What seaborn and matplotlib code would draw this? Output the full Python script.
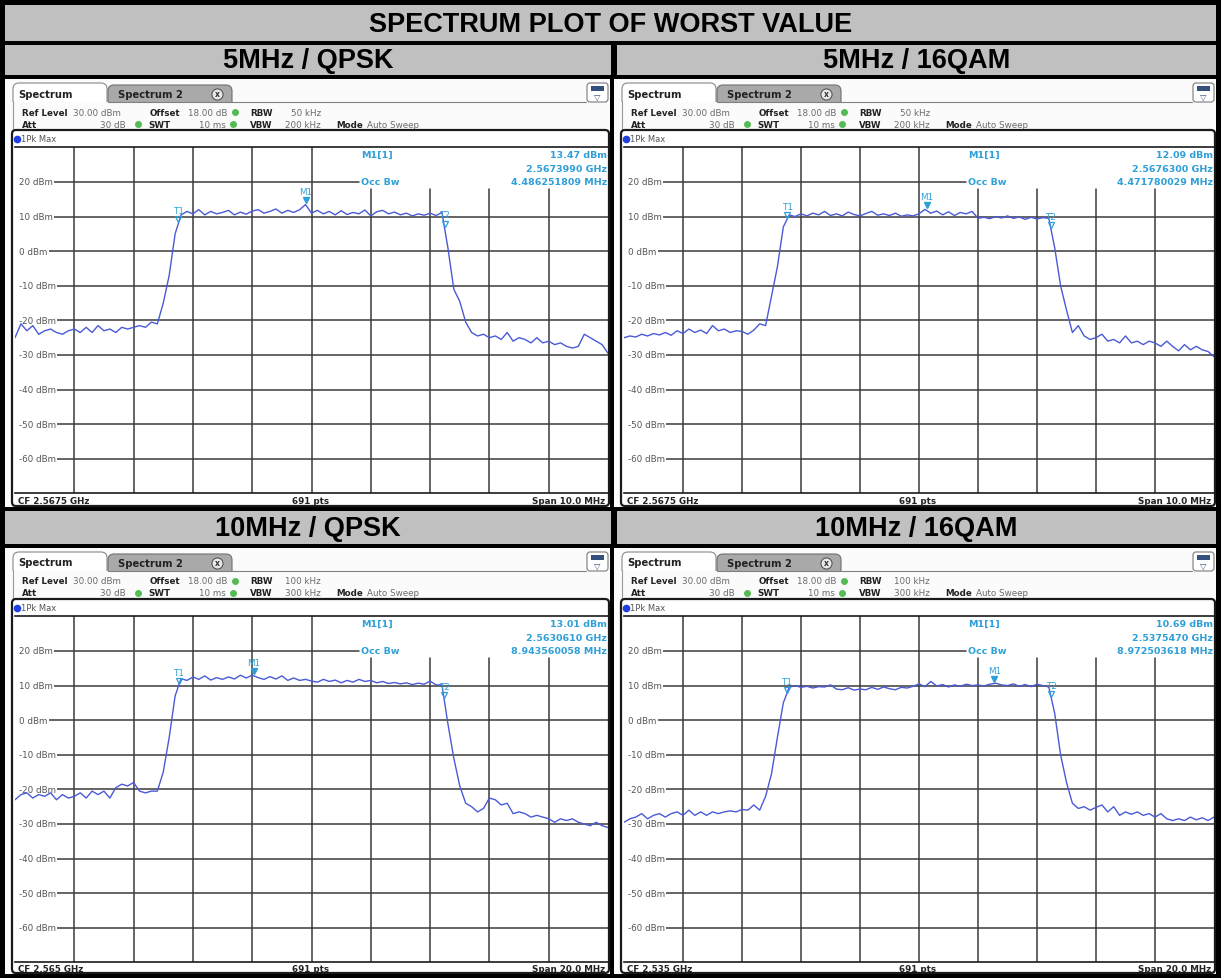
import numpy as np
import matplotlib
matplotlib.use('Agg')
import matplotlib.pyplot as plt
from matplotlib.patches import Rectangle, FancyBboxPatch
import seaborn as sns

# Chart data
TITLE = 'SPECTRUM PLOT OF WORST VALUE'
panel_titles = ['5MHz / QPSK', '5MHz / 16QAM', '10MHz / QPSK', '10MHz / 16QAM']
center_ghz = [2.5675, 2.5675, 2.565, 2.535]
span_mhz = [10.0, 10.0, 20.0, 20.0]
rbw_text = ['50 kHz', '50 kHz', '100 kHz', '100 kHz']
vbw_text = ['200 kHz', '200 kHz', '300 kHz', '300 kHz']
m1_level = [13.47, 12.09, 13.01, 10.69]
m1_freq_ghz = [2.5673990, 2.5676300, 2.5630610, 2.5375470]
occ_bw_mhz = [4.486251809, 4.471780029, 8.943560058, 8.972503618]
level_ticks = [20, 10, 0, -10, -20, -30, -40, -50, -60]

# Trace levels in dBm, one value every 1/10 of a division (101 points)
trace_5_qpsk = [
    -25, -21, -23, -21.5, -24, -23, -22.5, -23.5, -24, -23, -22.5,
    -23.5, -22, -23.5, -21.5, -23, -22.5, -23.5, -22, -22.5, -22,
    -21.5, -22, -20.5, -21, -15, -7, 5, 10.5, 11.5, 10.8,
    12, 10.5, 11.5, 10.8, 11.2, 11.8, 10.5, 11.3, 10.7, 11.6,
    12, 11, 11.5, 12.2, 11, 11.8, 11.2, 12, 13.47, 11,
    11.8, 10.8, 11.5, 10.5, 11.7, 10.6, 11.2, 10.8, 11.9, 10.2,
    11.4, 11.8, 10.8, 11.3, 10.5, 11, 10.2, 10.8, 10.4, 11,
    10.3, 11.2, 1, -11, -14.5, -20.5, -23.5, -24.5, -24, -25,
    -24.5, -25.5, -23.5, -26, -25, -25.5, -26.5, -25, -26.5, -26,
    -27, -26.5, -27.5, -28, -27.5, -24, -25, -26, -27, -29.5]
trace_5_16qam = [
    -25, -24.5, -24.8, -24, -24.5, -23.8, -24.2, -23.5, -24.3, -23, -23.8,
    -22.5, -23.5, -22.8, -23.8, -21.5, -23, -22.5, -23.5, -23, -23.2,
    -24, -22.8, -21, -21.5, -13, -4.5, 7, 10.5, 10, 10.8,
    10.2, 11, 10.5, 11.5, 10.3, 10.8, 10.2, 11.3, 10.6, 10.2,
    10.9, 11.5, 10.4, 10.8, 10.3, 11, 10.1, 10.5, 10.2, 10.8,
    12.09, 11, 11.6, 10.5, 11.4, 10.3, 11.2, 10.8, 11.5, 9.5,
    9.8, 9.4, 10, 9.6, 10.2, 9.5, 9.9, 9.2, 9.8, 9.3,
    9.7, 9.5, 1, -10, -17, -23.5, -21.5, -24.5, -25.5, -25,
    -24, -26, -25.5, -26.5, -24.5, -26.5, -26, -27, -26, -26.5,
    -27.5, -26, -27.5, -28.8, -27, -28.5, -27.5, -28.5, -29, -30.5]
trace_10_qpsk = [
    -23, -21.5, -21, -22.5, -21.5, -22, -21, -23, -21.5, -22.5, -22,
    -21, -22.5, -20.5, -21.5, -20.5, -22.5, -19.5, -18.5, -19, -18,
    -20.5, -21, -20.5, -20.5, -15, -5, 7, 12, 11.5, 12.5,
    11.8, 12.8, 11.6, 12.3, 11.8, 12.5, 11.9, 13, 12.2, 13.01,
    12.3, 11.8, 12.6, 11.9, 12.8, 11.5, 12.2, 11.5, 11.8, 11.3,
    11, 11.8, 11.2, 11.6, 10.8, 11.5, 11, 11.8, 11.2, 11.5,
    10.8, 11.2, 10.6, 10.9, 10.5, 10.8, 10.3, 10.7, 10.4, 11.3,
    10.2, 10.2, -1, -11, -19, -24, -25, -26.5, -25.5, -22.5,
    -23, -24.5, -24, -27, -26.5, -27, -28, -27.5, -28, -28.5,
    -29.5, -28.5, -29, -28.5, -29.5, -30, -30.5, -29.5, -30.5, -31]
trace_10_16qam = [
    -29.5, -28.5, -28, -27, -28.5, -27.5, -27, -28, -27, -26.5, -27.5,
    -26, -27.5, -26.5, -27.5, -26.5, -27, -26.5, -26.2, -26.5, -25.8,
    -26, -24.5, -26, -22, -15.5, -5, 5, 9.5, 10, 9.5,
    9.8, 9.3, 9.7, 9.6, 10.2, 9, 8.8, 9.4, 8.7, 9,
    8.8, 9.5, 8.9, 9.6, 9.1, 8.8, 9.5, 9.3, 9.8, 10.5,
    9.7, 11.2, 9.9, 10.3, 9.6, 10.2, 9.8, 10.4, 10, 10.2,
    9.9, 10.4, 10.69, 10.2, 10, 10.5, 9.8, 10.3, 9.7, 10.4,
    10, 9.6, 2, -10, -18, -24, -25.5, -25, -26, -25.2,
    -24.5, -26.5, -25, -27.5, -26.5, -27.2, -26.5, -27.5, -27, -28,
    -27, -28.5, -29, -28.5, -29, -28, -28.8, -28.2, -29, -28]
traces = [trace_5_qpsk, trace_5_16qam, trace_10_qpsk, trace_10_16qam]

# Colours
TRACE = '#4a5ad6'
CYAN = '#2e9fd8'
GRID = '#3a3a3a'
HEAD_GRAY = '#c0c0c0'
SCREEN_BG = '#fbfbfb'

sns.set_style('white')
plt.rcParams['font.family'] = ['DejaVu Sans']

W, H = 1221, 979
HEAD_FONT = 'Liberation Sans'


def draw_chrome(bg, i, x0, x1, y0, y1):
    # Tabs and the settings header of the analyser screen
    bg.add_patch(Rectangle((x0 - 7, y0), x1 - x0 + 8, y1 - y0, fc=SCREEN_BG,
                           ec='none', zorder=1))
    bg.add_patch(FancyBboxPatch((x0 + 1, y0 + 4), 94, 30,
                                boxstyle='round,pad=0,rounding_size=6',
                                fc='white', ec='#8a8a8a', lw=0.8, zorder=2))
    bg.add_patch(FancyBboxPatch((x0 + 96, y0 + 6), 124, 28,
                                boxstyle='round,pad=0,rounding_size=6',
                                fc='#a9a9a9', ec='#707070', lw=0.8, zorder=2))
    bg.add_patch(Rectangle((x0 - 2, y0 + 23), x1 - x0 + 3, 28, fc=SCREEN_BG,
                           ec='none', zorder=3))
    bg.plot([x0 + 96, x1 - 23], [y0 + 23, y0 + 23], color='#808080', lw=0.8,
            zorder=4)
    bg.plot([x0 + 1, x0 + 1], [y0 + 22, y0 + 52], color='#9a9a9a', lw=0.8,
            zorder=4)
    bg.text(x0 + 6, y0 + 14.5, 'Spectrum', fontsize=7.2, fontweight='bold',
            color='#222', va='center', zorder=5)
    bg.text(x0 + 106, y0 + 15, 'Spectrum 2', fontsize=7.2, fontweight='bold',
            color='#222', va='center', zorder=5)
    bg.plot(x0 + 205, y0 + 14.5, marker='o', ms=8, mfc='#e8e8e8', mec='#555',
            mew=0.8, zorder=5)
    bg.text(x0 + 205, y0 + 14.7, 'x', fontsize=5.5, fontweight='bold',
            ha='center', va='center', color='#333', zorder=6)

    # Small icon at top right
    bg.add_patch(FancyBboxPatch((x1 - 22, y0 + 4), 21, 19,
                                boxstyle='round,pad=0,rounding_size=3',
                                fc='white', ec='#7a7a7a', lw=0.8, zorder=5))
    bg.add_patch(Rectangle((x1 - 18, y0 + 7), 13, 5, fc='#34507c', ec='none',
                           zorder=6))
    bg.text(x1 - 11.5, y0 + 17, '\u25bd', fontsize=6, color='#34507c',
            ha='center', va='center', zorder=6)

    # Settings lines
    ya, yb = y0 + 33, y0 + 45
    kw_b = dict(fontsize=6.3, fontweight='bold', color='#222', va='center',
                zorder=5)
    kw_n = dict(fontsize=6.3, color='#6a6a6a', va='center', zorder=5)
    bg.text(x0 + 10, ya, 'Ref Level', **kw_b)
    bg.text(x0 + 61, ya, '30.00 dBm', **kw_n)
    bg.text(x0 + 138, ya, 'Offset', **kw_b)
    bg.text(x0 + 176, ya, '18.00 dB', **kw_n)
    bg.text(x0 + 238, ya, 'RBW', **kw_b)
    bg.text(x0 + 309, ya, rbw_text[i], ha='right', **kw_n)
    bg.text(x0 + 10, yb, 'Att', **kw_b)
    bg.text(x0 + 114, yb, '30 dB', ha='right', **kw_n)
    bg.text(x0 + 136, yb, 'SWT', **kw_b)
    bg.text(x0 + 214, yb, '10 ms', ha='right', **kw_n)
    bg.text(x0 + 238, yb, 'VBW', **kw_b)
    bg.text(x0 + 309, yb, vbw_text[i], ha='right', **kw_n)
    bg.text(x0 + 324, yb, 'Mode', **kw_b)
    bg.text(x0 + 355, yb, 'Auto Sweep', **kw_n)
    for dx, dy in [(223, ya), (126, yb), (221, yb)]:
        bg.plot(x0 + dx, dy, marker='o', ms=4, color='#55bb55', zorder=5)

    # Graph frame, trace strip and footer
    bg.add_patch(FancyBboxPatch((x0, y0 + 51), x1 - x0, y1 - y0 - 52,
                                boxstyle='round,pad=0,rounding_size=4',
                                fc='white', ec='#1a1a1a', lw=1.6, zorder=5))
    bg.plot(x0 + 5, y0 + 60, marker='o', ms=4.5, color='#1f3fe0', zorder=6)
    bg.text(x0 + 9, y0 + 60, '1Pk Max', fontsize=6, color='#555',
            va='center', zorder=6)
    yf = (y0 + 414.4 + y1) / 2
    bg.text(x0 + 6, yf, f'CF {center_ghz[i]} GHz', fontsize=6.3,
            fontweight='bold', color='#222', va='center', zorder=6)
    bg.text((x0 + x1) / 2, yf, '691 pts', fontsize=6.3, fontweight='bold',
            color='#222', va='center', ha='center', zorder=6)
    bg.text(x1 - 4, yf, f'Span {span_mhz[i]:.1f} MHz', fontsize=6.3,
            fontweight='bold', color='#222', va='center', ha='right', zorder=6)


def draw_trace(fig, i, x0, x1, y0):
    gx0, gx1 = x0 + 3, x1 - 1
    gy0, gy1 = y0 + 68.4, y0 + 414.4
    ax = fig.add_axes([gx0 / W, 1 - gy1 / H, (gx1 - gx0) / W, (gy1 - gy0) / H])
    ax.set_facecolor('none')

    cf = center_ghz[i] * 1000
    span = span_mhz[i]
    f0, f1 = cf - span / 2, cf + span / 2
    levels = np.array(traces[i])
    freq = np.linspace(f0, f1, len(levels))

    # Grid
    xs = np.linspace(f0, f1, 11)
    for k, xv in enumerate(xs[1:-1], 1):
        top = 30 if k < 6 else 18
        ax.plot([xv, xv], [-70, top], color=GRID, lw=1.1, zorder=1)
    for yv in level_ticks:
        xend = f1 if yv != 20 else f0 + 0.58 * span
        ax.plot([f0 + 0.012 * span, xend], [yv, yv], color=GRID, lw=1.1,
                zorder=1)
        ax.text(f0 + 0.006 * span, yv, f'{yv} dBm', fontsize=6.3, color='#555',
                va='center', ha='left', zorder=2,
                bbox=dict(fc='white', ec='none', pad=1.2))

    # Trace
    sns.lineplot(x=freq, y=levels, ax=ax, color=TRACE, lw=1.0, zorder=4,
                 estimator=None, legend=False)

    # Occupied bandwidth markers and M1
    t1 = cf - occ_bw_mhz[i] / 2
    t2 = cf + occ_bw_mhz[i] / 2
    for name, tf in [('T1', t1), ('T2', t2)]:
        ty = np.interp(tf, freq, levels)
        ax.plot(tf, ty + 1.2, marker='v', ms=5, mfc='none', mec=CYAN, mew=0.9,
                zorder=5)
        ax.text(tf, ty + 2.4, name, fontsize=6.3, color=CYAN, ha='center',
                va='bottom', zorder=5)
    mf = m1_freq_ghz[i] * 1000
    ax.plot(mf, m1_level[i] + 1.2, marker='v', ms=5, color=CYAN, zorder=5)
    ax.text(mf, m1_level[i] + 2.4, 'M1', fontsize=6.3, color=CYAN,
            ha='center', va='bottom', zorder=5)

    # Marker info block
    kw = dict(fontsize=6.8, fontweight='bold', color=CYAN, va='center',
              zorder=5)
    xl = f0 + 0.583 * span
    xr = f1 - 0.002 * span
    ax.text(xl, 28, 'M1[1]', **kw)
    ax.text(xr, 28, f'{m1_level[i]:.2f} dBm', ha='right', **kw)
    ax.text(xr, 24, f'{m1_freq_ghz[i]:.7f} GHz', ha='right', **kw)
    ax.text(xl, 20, 'Occ Bw', **kw)
    ax.text(xr, 20, f'{occ_bw_mhz[i]:.9f} MHz', ha='right', **kw)

    ax.set_xlim(f0, f1)
    ax.set_ylim(-70, 30)
    ax.set_xticks([])
    ax.set_yticks([])
    ax.set_xlabel('')
    ax.set_ylabel('')
    for side in ['left', 'right']:
        ax.spines[side].set_visible(False)
    for side in ['top', 'bottom']:
        ax.spines[side].set_color('#1a1a1a')
        ax.spines[side].set_linewidth(1.2)


def main():
    fig = plt.figure(figsize=(W / 100, H / 100), dpi=100, facecolor='black')
    bg = fig.add_axes([0, 0, 1, 1])
    bg.set_xlim(0, W)
    bg.set_ylim(H, 0)
    bg.axis('off')

    cols = [(5, 611), (617, 1216)]
    boxes = [(12, 609), (621, 1215)]
    heads = [(46, 76), (512, 545)]
    cells = [(80, 508), (549, 975)]

    # Table header
    bg.add_patch(Rectangle((5, 6), 1211, 36, fc=HEAD_GRAY, ec='none'))
    bg.text(610.5, 24.5, TITLE, ha='center', va='center', fontsize=19.5,
            fontweight='bold', family=HEAD_FONT, color='black')

    for i in range(4):
        r, c = divmod(i, 2)
        cx0, cx1 = cols[c]
        hy0, hy1 = heads[r]
        bg.add_patch(Rectangle((cx0, hy0), cx1 - cx0, hy1 - hy0, fc=HEAD_GRAY,
                               ec='none'))
        bg.text((cx0 + cx1) / 2, (hy0 + hy1) / 2 + 0.5, panel_titles[i],
                ha='center', va='center', fontsize=19.5, fontweight='bold',
                family=HEAD_FONT, color='black')
        x0, x1 = boxes[c]
        y0, y1 = cells[r]
        draw_chrome(bg, i, x0, x1, y0, y1)
        draw_trace(fig, i, x0, x1, y0)

    fig.savefig('out.png', dpi=100, facecolor='black')
    plt.close()


if __name__ == '__main__':
    main()
